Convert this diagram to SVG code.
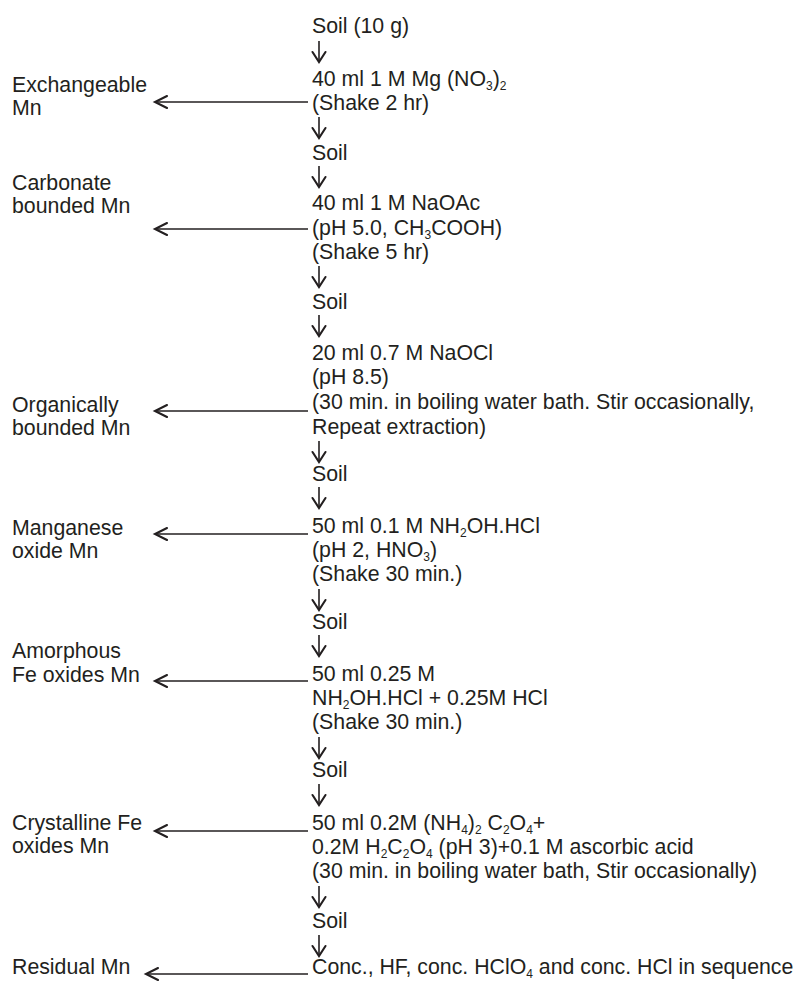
<svg xmlns="http://www.w3.org/2000/svg" width="795" height="983" viewBox="0 0 795 983">
<style>
text{font-family:"Liberation Sans",Arial,Helvetica,sans-serif;font-size:21.3px;fill:#231f20}
.s{font-size:12px}
.ln{stroke:#231f20;stroke-width:1.6;fill:none}
.hd{stroke:#231f20;stroke-width:2.1;fill:none;stroke-linecap:round;stroke-linejoin:miter}
</style>
<defs>
<g id="down"><path class="ln" d="M0,0V20"/><path class="hd" d="M-6.5,11L0,21L6.5,11"/></g>
<g id="left"><path class="hd" d="M12,-6L0,0L12,6"/></g>
</defs>
<rect width="795" height="983" fill="#ffffff"/>

<g id="steps">
<g id="n-soil0"><text x="312" y="33">Soil (10 g)</text></g>
<g id="n-mg"><text x="312" y="86">40 ml 1 M Mg (NO<tspan class="s" dy="4">3</tspan><tspan dy="-4">)</tspan><tspan class="s" dy="4">2</tspan></text><text x="312" y="110">(Shake 2 hr)</text></g>
<g id="n-soil1"><text x="312" y="160">Soil</text></g>
<g id="n-naoac"><text x="312" y="210">40 ml 1 M NaOAc</text><text x="312" y="235">(pH 5.0, CH<tspan class="s" dy="4">3</tspan><tspan dy="-4">COOH)</tspan></text><text x="312" y="259">(Shake 5 hr)</text></g>
<g id="n-soil2"><text x="312" y="309">Soil</text></g>
<g id="n-naocl"><text x="312" y="360">20 ml 0.7 M NaOCl</text><text x="312" y="384">(pH 8.5)</text><text x="312" y="409">(30 min. in boiling water bath. Stir occasionally,</text><text x="312" y="434">Repeat extraction)</text></g>
<g id="n-soil3"><text x="312" y="481">Soil</text></g>
<g id="n-nh2oh1"><text x="312" y="533">50 ml 0.1 M NH<tspan class="s" dy="4">2</tspan><tspan dy="-4">OH.HCl</tspan></text><text x="312" y="557">(pH 2, HNO<tspan class="s" dy="4">3</tspan><tspan dy="-4">)</tspan></text><text x="312" y="581">(Shake 30 min.)</text></g>
<g id="n-soil4"><text x="312" y="629">Soil</text></g>
<g id="n-nh2oh2"><text x="312" y="681">50 ml 0.25 M</text><text x="312" y="705">NH<tspan class="s" dy="4">2</tspan><tspan dy="-4">OH.HCl + 0.25M HCl</tspan></text><text x="312" y="729">(Shake 30 min.)</text></g>
<g id="n-soil5"><text x="312" y="777">Soil</text></g>
<g id="n-oxalate"><text x="312" y="830">50 ml 0.2M (NH<tspan class="s" dy="4">4</tspan><tspan dy="-4">)</tspan><tspan class="s" dy="4">2</tspan><tspan dy="-4"> C</tspan><tspan class="s" dy="4">2</tspan><tspan dy="-4">O</tspan><tspan class="s" dy="4">4</tspan><tspan dy="-4">+</tspan></text><text x="312" y="854">0.2M H<tspan class="s" dy="4">2</tspan><tspan dy="-4">C</tspan><tspan class="s" dy="4">2</tspan><tspan dy="-4">O</tspan><tspan class="s" dy="4">4</tspan><tspan dy="-4"> (pH 3)+0.1 M ascorbic acid</tspan></text><text x="312" y="878">(30 min. in boiling water bath, Stir occasionally)</text></g>
<g id="n-soil6"><text x="312" y="928">Soil</text></g>
<g id="n-residual-step"><text x="312" y="974">Conc., HF, conc. HClO<tspan class="s" dy="4">4</tspan><tspan dy="-4"> and conc. HCl in sequence</tspan></text></g>
</g>

<g id="fractions">
<g id="f-exch"><text x="12" y="92">Exchangeable</text><text x="12" y="115">Mn</text></g>
<g id="f-carb"><text x="12" y="190">Carbonate</text><text x="12" y="213">bounded Mn</text></g>
<g id="f-org"><text x="12" y="412">Organically</text><text x="12" y="435">bounded Mn</text></g>
<g id="f-mnox"><text x="12" y="535">Manganese</text><text x="12" y="558">oxide Mn</text></g>
<g id="f-amfe"><text x="12" y="658">Amorphous</text><text x="12" y="682">Fe oxides Mn</text></g>
<g id="f-crfe"><text x="12" y="830">Crystalline Fe</text><text x="12" y="853">oxides Mn</text></g>
<g id="f-res"><text x="12" y="974">Residual Mn</text></g>
</g>

<g id="connectors">
<use href="#down" x="319" y="41"/>
<use href="#down" x="319" y="117"/>
<use href="#down" x="319" y="166"/>
<use href="#down" x="319" y="266"/>
<use href="#down" x="319" y="315"/>
<use href="#down" x="319" y="441"/>
<use href="#down" x="319" y="487"/>
<use href="#down" x="319" y="589"/>
<use href="#down" x="319" y="635"/>
<use href="#down" x="319" y="737"/>
<use href="#down" x="319" y="784"/>
<use href="#down" x="319" y="886"/>
<use href="#down" x="319" y="935"/>

<path class="ln" d="M155,102H308"/><use href="#left" x="155" y="102"/>
<path class="ln" d="M155,229H308"/><use href="#left" x="155" y="229"/>
<path class="ln" d="M155,411H308"/><use href="#left" x="155" y="411"/>
<path class="ln" d="M155,534H308"/><use href="#left" x="155" y="534"/>
<path class="ln" d="M155,681H308"/><use href="#left" x="155" y="681"/>
<path class="ln" d="M155,831H308"/><use href="#left" x="155" y="831"/>
<path class="ln" d="M146,974H308"/><use href="#left" x="146" y="974"/>
</g>
</svg>
